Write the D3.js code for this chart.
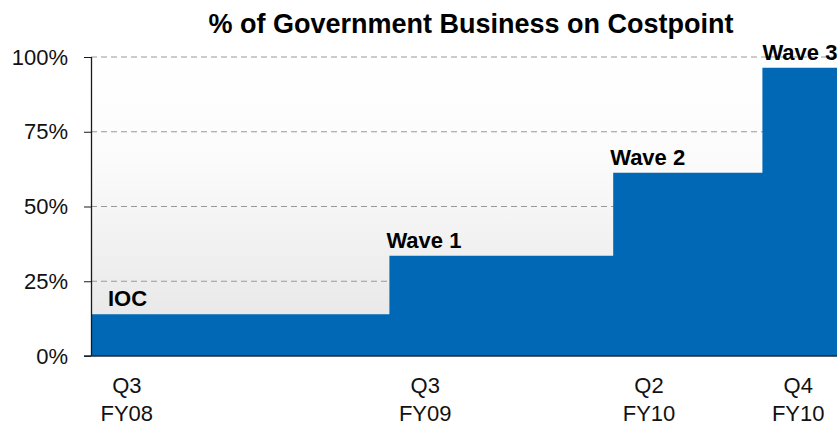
<!DOCTYPE html>
<html>
<head>
<meta charset="utf-8">
<script src="https://cdn.jsdelivr.net/npm/d3@7/dist/d3.min.js"></script>
<style>
  html, body { margin: 0; padding: 0; background: #fff; }
  svg { display: block; font-family: "Liberation Sans", Arial, sans-serif; }
</style>
</head>
<body>
<svg id="chart" width="840" height="426"></svg>
<script>
// ---- data ----
const quarterIndex = [0, 4, 7, 9];          // quarters since Q3 FY08
const values = [14, 33.5, 61.3, 96.4];      // % of government business
const waveLabels = ["IOC", "Wave 1", "Wave 2", "Wave 3"];
const quarterLabels = [["Q3", "FY08"], ["Q3", "FY09"], ["Q2", "FY10"], ["Q4", "FY10"]];
const yTicks = [0, 25, 50, 75, 100];
const endQuarter = 10;
const title = "% of Government Business on Costpoint";

// ---- layout ----
const svg = d3.select("#chart");
const mLeft = 91, mRight = 837, mTop = 57, mBottom = 356;

const x = d3.scaleLinear().domain([0, endQuarter]).range([mLeft, mRight]);
const y = d3.scaleLinear().domain([0, 100]).range([mBottom, mTop]);

// background gradient
const defs = svg.append("defs");
const grad = defs.append("linearGradient").attr("id", "bg")
  .attr("x1", 0).attr("y1", 0).attr("x2", 0).attr("y2", 1);
grad.append("stop").attr("offset", "0%").attr("stop-color", "#ffffff");
grad.append("stop").attr("offset", "35%").attr("stop-color", "#fbfbfb");
grad.append("stop").attr("offset", "100%").attr("stop-color", "#e4e4e4");

svg.append("rect")
  .attr("x", mLeft).attr("y", mTop)
  .attr("width", mRight - mLeft).attr("height", mBottom - mTop)
  .attr("fill", "url(#bg)");

// gridlines
svg.append("g").selectAll("line")
  .data(yTicks.filter(d => d > 0))
  .join("line")
  .attr("x1", mLeft).attr("x2", mRight)
  .attr("y1", d => y(d)).attr("y2", d => y(d))
  .attr("stroke", "#999999")
  .attr("stroke-width", 1)
  .attr("stroke-dasharray", "6,4");

// step area
const pts = quarterIndex.map((q, i) => ({ q, v: values[i] }));
pts.push({ q: endQuarter, v: values[values.length - 1] });
const area = d3.area()
  .x(d => x(d.q))
  .y0(y(0))
  .y1(d => y(d.v))
  .curve(d3.curveStepAfter);
svg.append("path")
  .datum(pts)
  .attr("d", area)
  .attr("fill", "#0068b4");

// y axis
const yAxis = d3.axisLeft(y).tickValues(yTicks).tickFormat(d => d + "%").tickSize(7).tickPadding(16);
const yg = svg.append("g").attr("transform", `translate(${mLeft},0)`).call(yAxis);
yg.select(".domain").attr("stroke", "#1a1a1a").attr("stroke-width", 1.3).attr("d", `M0.5,${mTop}V${mBottom}`);
yg.selectAll(".tick line").attr("stroke", "#1a1a1a");
yg.selectAll(".tick text").attr("font-size", 22).attr("fill", "#111")
  .attr("font-family", "Liberation Sans, Arial, sans-serif");

// baseline
svg.append("line")
  .attr("x1", mLeft - 7).attr("x2", mRight)
  .attr("y1", y(0)).attr("y2", y(0))
  .attr("stroke", "#1b2a3a").attr("stroke-width", 1.5);

// x labels
const xl = svg.append("g").selectAll("text")
  .data(quarterIndex)
  .join("text")
  .attr("text-anchor", "middle")
  .attr("font-size", 22)
  .attr("fill", "#111");
xl.append("tspan").attr("x", d => x(d + 0.48)).attr("y", 393).text((d, i) => quarterLabels[i][0]);
xl.append("tspan").attr("x", d => x(d + 0.48)).attr("y", 421).text((d, i) => quarterLabels[i][1]);

// wave labels
svg.append("g").selectAll("text")
  .data(quarterIndex)
  .join("text")
  .attr("x", (d, i) => x(d) + (i === 0 ? 17 : i === 3 ? 0 : -3))
  .attr("y", (d, i) => y(values[i]) - 8)
  .attr("font-size", 22)
  .attr("font-weight", "bold")
  .attr("fill", "#000")
  .text((d, i) => waveLabels[i]);

// title
svg.append("text")
  .attr("x", 471).attr("y", 33)
  .attr("text-anchor", "middle")
  .attr("font-size", 27)
  .attr("font-weight", "bold")
  .attr("fill", "#000")
  .text(title);
</script>
</body>
</html>
